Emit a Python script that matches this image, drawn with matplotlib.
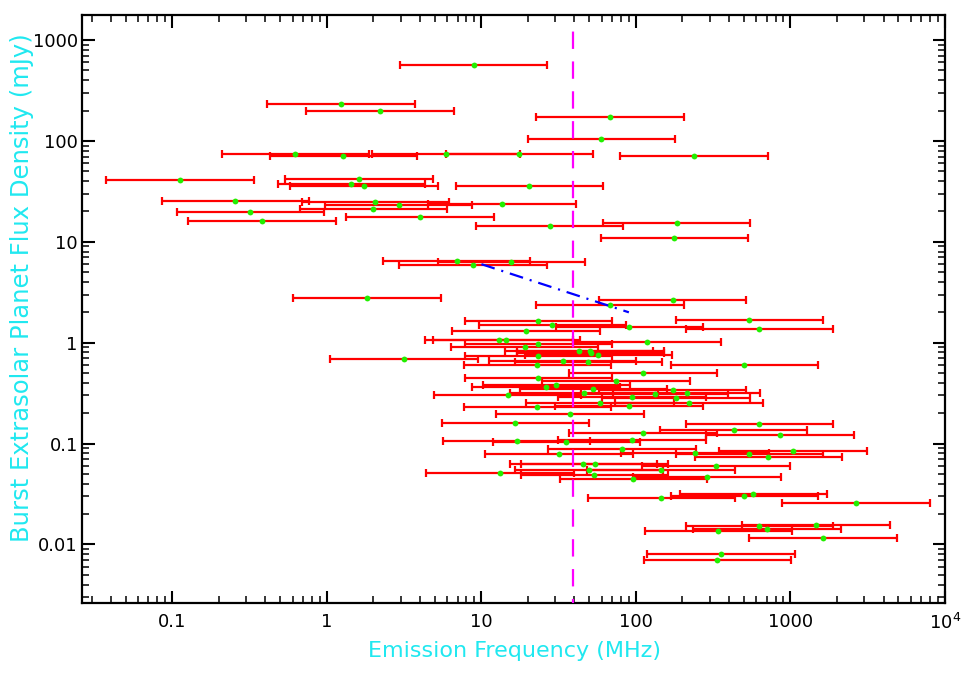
import matplotlib
matplotlib.use("Agg")
import matplotlib.pyplot as plt
from matplotlib.ticker import LogLocator, FixedLocator, FixedFormatter, NullFormatter
import numpy as np

plt.rcParams['font.family'] = ['DejaVu Sans']
plt.rcParams['lines.scale_dashes'] = False

# Emission frequency (MHz) and flux density (mJy) of each predicted burst
freq = [8.9, 1.23, 2.21, 68, 59.8, 0.625, 1.28, 5.9, 17.6, 237,
        0.112, 1.61, 1.44, 1.74, 20.4, 0.256, 2.06, 2.91, 13.6, 2.0,
        0.32, 0.379, 4.0, 27.6, 183, 177, 6.9, 8.8, 15.6, 1.82,
        173, 68,
        23.4, 542, 28.8, 90.8, 630, 19.4, 117.5, 13.0, 14.5, 23.4,
        19.0, 42.8, 50.6, 51.0, 57.2, 23.4, 33.6, 49.3, 23.0, 503,
        3.15, 111, 23.4, 74.5, 30.5, 26.2, 53.1, 173, 46.2, 213,
        132, 14.8, 94.4, 182, 58.6, 221, 90, 23.0, 37.5, 16.6,
        630, 428, 111, 857, 16.9, 35.4, 94.4, 81, 31.8, 1035,
        542, 720, 241, 45.7, 54, 330, 49.8, 145.6, 13.2, 53.7,
        96.4, 288, 146, 503, 575, 2655, 1459, 630, 703, 342,
        1625, 354, 337]
flux = [565, 231, 196, 174, 105, 73.6, 70.3, 73.6, 74, 70.3,
        41.2, 41.9, 37.7, 36, 35.7, 25.2, 24.8, 23.3, 23.5, 21.3,
        19.7, 16.2, 17.5, 14.5, 15.2, 10.8, 6.5, 5.89, 6.3, 2.75,
        2.65, 2.37,
        1.65, 1.67, 1.51, 1.42, 1.36, 1.30, 1.02, 1.06, 1.06, 0.97,
        0.90, 0.83, 0.82, 0.79, 0.76, 0.73, 0.66, 0.65, 0.605, 0.60,
        0.69, 0.50, 0.447, 0.42, 0.381, 0.366, 0.347, 0.34, 0.315, 0.315,
        0.31, 0.30, 0.29, 0.283, 0.254, 0.25, 0.238, 0.232, 0.198, 0.159,
        0.155, 0.135, 0.127, 0.121, 0.106, 0.104, 0.108, 0.089, 0.079, 0.0845,
        0.079, 0.073, 0.081, 0.063, 0.063, 0.0596, 0.0543, 0.0543, 0.0508, 0.0485,
        0.0446, 0.0463, 0.0287, 0.0303, 0.032, 0.0259, 0.0156, 0.0151, 0.0141, 0.0137,
        0.0115, 0.00805, 0.00708]

# frequency uncertainty: factor of 3 either side
freq_factor = 3.0

# cutoff frequency (vertical line) and fitted trend (dash-dot line)
cutoff_freq = 39.0
cutoff_flux_range = [0.0005, 1256]
trend_freq = [10, 90]
trend_flux = [6.0, 2.0]

x_ticks = [0.1, 1, 10, 100, 1000, 10000]
x_labels = ['0.1', '1', '10', '100', '1000', '10$^4$']
y_ticks = [0.01, 0.1, 1, 10, 100, 1000]
y_labels = ['0.01', '0.1', '1', '10', '100', '1000']

W, H = 966, 690
left_px, right_px, top_px, bottom_px = 82, 945, 15, 603

fig = plt.figure(figsize=(W / 100, H / 100), dpi=100)
ax = fig.add_axes([left_px / W, 1 - bottom_px / H,
                   (right_px - left_px) / W, (bottom_px - top_px) / H])

f = np.array(freq)
fl = np.array(flux)
xerr = np.vstack([f - f / freq_factor, f * freq_factor - f])

ax.set_xscale('log')
ax.set_yscale('log')

ax.errorbar(f, fl, xerr=xerr, fmt='none', ecolor='#ff0000', elinewidth=1.6,
            capsize=3.2, capthick=1.6, zorder=3)
ax.plot(f, fl, 'o', color='#22ee00', markersize=4.2, markeredgewidth=0, zorder=4)

vline, = ax.plot([cutoff_freq, cutoff_freq], cutoff_flux_range, color='#ff00ff',
                 linewidth=1.6, zorder=5)
vline.set_dashes([12.5, 9.0])
tline, = ax.plot(trend_freq, trend_flux, color='#0000ff', linewidth=1.6, zorder=5)
tline.set_dashes([10, 5, 1.5, 5])

ax.set_xlim(0.026, 1e4)
ax.set_ylim(10 ** (3 - (bottom_px - 40) / 100.9), 10 ** (3 + (40 - top_px) / 100.9))

ax.xaxis.set_major_locator(FixedLocator(x_ticks))
ax.xaxis.set_major_formatter(FixedFormatter(x_labels))
ax.yaxis.set_major_locator(FixedLocator(y_ticks))
ax.yaxis.set_major_formatter(FixedFormatter(y_labels))
ax.xaxis.set_minor_locator(LogLocator(base=10, subs=np.arange(2, 10), numticks=50))
ax.yaxis.set_minor_locator(LogLocator(base=10, subs=np.arange(2, 10), numticks=50))
ax.xaxis.set_minor_formatter(NullFormatter())
ax.yaxis.set_minor_formatter(NullFormatter())

ax.tick_params(which='both', direction='in', top=True, right=True, color='black')
ax.tick_params(which='major', length=9, width=1.5, labelsize=13)
ax.tick_params(which='minor', length=5, width=1.1)
ax.tick_params(axis='y', which='major', pad=3)
ax.tick_params(axis='x', which='major', pad=7)
for s in ax.spines.values():
    s.set_linewidth(1.6)

fig.text(514 / W, 1 - 651 / H, 'Emission Frequency (MHz)', color='#20e8f0',
         fontsize=16, ha='center', va='center')
fig.text(22 / W, 1 - 288 / H, 'Burst Extrasolar Planet Flux Density (mJy)',
         color='#20e8f0', fontsize=17.5, ha='center', va='center', rotation=90)

fig.savefig('out.png', dpi=100)
